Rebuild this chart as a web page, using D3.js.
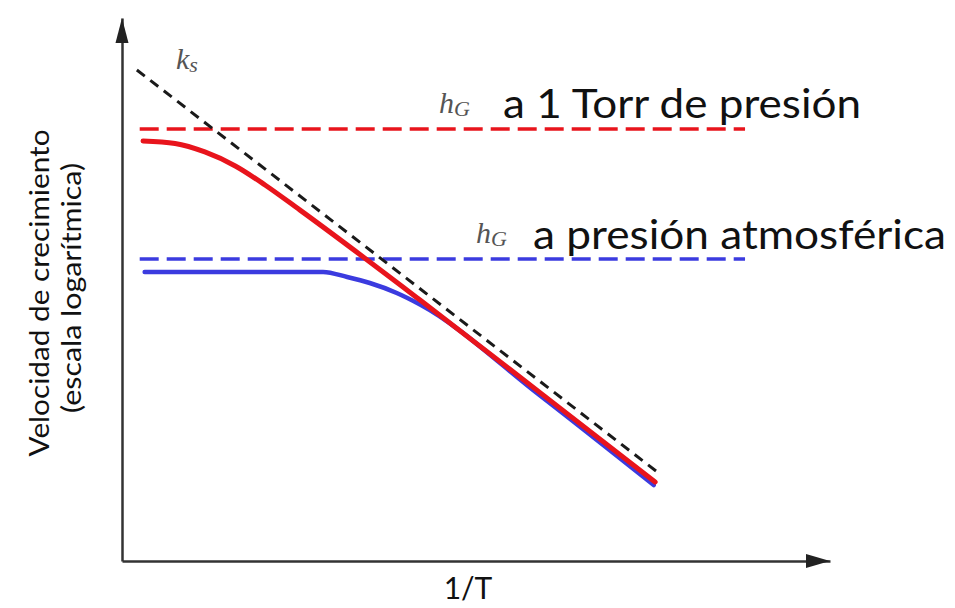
<!DOCTYPE html>
<html>
<head>
<meta charset="utf-8">
<script src="https://cdn.jsdelivr.net/npm/d3@7"></script>
<style>
  html, body { margin: 0; padding: 0; background: #fff; }
  svg { display: block; }
</style>
</head>
<body>
<svg id="chart" width="955" height="608"></svg>
<script>
// Growth rate vs 1/T (log scale): surface-reaction limit k_s and
// mass-transfer limits h_G at two pressures.

// Horizontal axis: 1/T in arbitrary units; vertical: rate (log scale)
const ksInvT = [2.1, 76];
const ksRate = [33200, 6.3];

const hgTorrInvT = [2.5, 88];
const hgTorrRate = [9500, 9500];

const hgAtmInvT = [2.5, 88];
const hgAtmRate = [604, 604];

const torrInvT = [2.97, 7.5, 11.7, 16.0, 20.2, 25.1, 42.1, 59.0, 75.3];
const torrRate = [7370, 6990, 5840, 4340, 2900, 1710, 253, 35.7, 5.34];

const atmInvT = [3.2, 28.4, 31.8, 35.0, 38.8, 42.1, 59.0, 75.1];
const atmRate = [459, 459, 412, 363, 294, 230, 33.6, 5.0];

const labels = {
  ks: "k", ksSub: "s",
  hg: "h", hgSub: "G",
  torr: "a 1 Torr de presión",
  atm: "a presión atmosférica",
  xTitle: "1/T",
  yTitle1: "Velocidad de crecimiento",
  yTitle2: "(escala logarítmica)"
};

const svg = d3.select("#chart");
const axisColor = "#333";
const red = "#e8141c";
const blue = "#3b3bdf";

const x = d3.scaleLinear().domain([0, 100]).range([122, 830]);
const y = d3.scaleLog().domain([1, 1e5]).range([561, 18]);

const zip = (xs, ys) => xs.map((v, i) => [v, ys[i]]);
const line = d3.line().x(d => x(d[0])).y(d => y(d[1]));
const smooth = d3.line().x(d => x(d[0])).y(d => y(d[1])).curve(d3.curveMonotoneX);

// Axes (no ticks, just the two arrows)
const yAxis = svg.append("g")
  .attr("transform", `translate(${x(0)},0)`)
  .call(d3.axisLeft(y).tickValues([]).tickSizeOuter(0));
const xAxis = svg.append("g")
  .attr("transform", `translate(0,${y(1)})`)
  .call(d3.axisBottom(x).tickValues([]).tickSizeOuter(0));
[yAxis, xAxis].forEach(g => g.select(".domain")
  .attr("stroke", axisColor).attr("stroke-width", 2.5));

const y0 = y.range()[1], xa = x(0);
svg.append("path")
  .attr("d", `M${xa},${y0} L${xa - 6.5},${y0 + 25} L${xa + 6.5},${y0 + 25} Z`)
  .attr("fill", "#222");
const x1 = x.range()[1], ya = y(1);
svg.append("path")
  .attr("d", `M${x1},${ya} L${x1 - 24},${ya - 7} L${x1 - 24},${ya + 7} Z`)
  .attr("fill", "#222");

// Mass-transfer limits (dashed)
svg.append("path").datum(zip(hgTorrInvT, hgTorrRate))
  .attr("d", line).attr("fill", "none")
  .attr("stroke", red).attr("stroke-width", 3.5)
  .attr("stroke-dasharray", "19,8");
svg.append("path").datum(zip(hgAtmInvT, hgAtmRate))
  .attr("d", line).attr("fill", "none")
  .attr("stroke", blue).attr("stroke-width", 3.5)
  .attr("stroke-dasharray", "19,8");

// Observed growth rates
svg.append("path").datum(zip(atmInvT, atmRate))
  .attr("d", smooth).attr("fill", "none")
  .attr("stroke", blue).attr("stroke-width", 4.5)
  .attr("stroke-linecap", "round");
svg.append("path").datum(zip(torrInvT, torrRate))
  .attr("d", smooth).attr("fill", "none")
  .attr("stroke", red).attr("stroke-width", 5)
  .attr("stroke-linecap", "round");

// Surface-reaction limit
svg.append("path").datum(zip(ksInvT, ksRate))
  .attr("d", line).attr("fill", "none")
  .attr("stroke", "#1a1a1a").attr("stroke-width", 3)
  .attr("stroke-dasharray", "10,7");

// Symbol labels
function symbol(px, py, main, sub) {
  const t = svg.append("text")
    .attr("x", px).attr("y", py)
    .attr("font-family", "Liberation Serif, DejaVu Serif, serif")
    .attr("font-style", "italic")
    .attr("fill", "#555");
  t.append("tspan").attr("font-size", 30).text(main);
  t.append("tspan").attr("font-size", 22).attr("dy", 3).text(sub);
}
symbol(176, 69, labels.ks, labels.ksSub);
symbol(439, 113, labels.hg, labels.hgSub);
symbol(476, 243, labels.hg, labels.hgSub);

const sans = "Lato, 'Open Sans', sans-serif";
svg.append("text").attr("x", 503).attr("y", 118)
  .attr("font-family", sans).attr("font-size", 40).attr("fill", "#111")
  .attr("textLength", 358).attr("lengthAdjust", "spacingAndGlyphs")
  .text(labels.torr);
svg.append("text").attr("x", 533).attr("y", 249)
  .attr("font-family", sans).attr("font-size", 40).attr("fill", "#111")
  .attr("textLength", 413).attr("lengthAdjust", "spacingAndGlyphs")
  .text(labels.atm);

svg.append("text").attr("x", 468).attr("y", 599)
  .attr("text-anchor", "middle")
  .attr("font-family", sans).attr("font-size", 30).attr("fill", "#111")
  .text(labels.xTitle);

const yt = svg.append("g").attr("transform", "rotate(-90)");
yt.append("text").attr("x", -293).attr("y", 49)
  .attr("text-anchor", "middle")
  .attr("font-family", sans).attr("font-size", 26).attr("fill", "#111")
  .attr("textLength", 327).attr("lengthAdjust", "spacingAndGlyphs")
  .text(labels.yTitle1);
yt.append("text").attr("x", -288).attr("y", 81)
  .attr("text-anchor", "middle")
  .attr("font-family", sans).attr("font-size", 26).attr("fill", "#111")
  .attr("textLength", 250).attr("lengthAdjust", "spacingAndGlyphs")
  .text(labels.yTitle2);
</script>
</body>
</html>
